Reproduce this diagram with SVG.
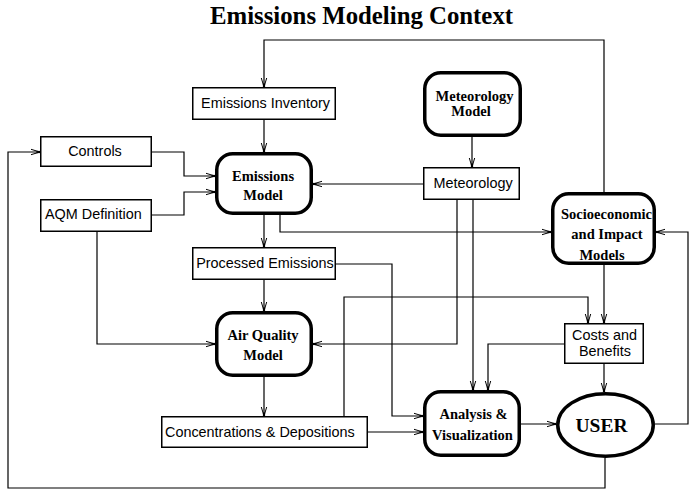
<svg xmlns="http://www.w3.org/2000/svg" width="697" height="497" viewBox="0 0 697 497">
<style>
.bg{fill:#fff}
.box{fill:#fff;stroke:#000;stroke-width:1.5}
.model{fill:#fff;stroke:#000;stroke-width:3.5}
.lbl{font-family:"Liberation Sans",Arial,sans-serif;font-size:14.4px;fill:#000}
.mlbl{font-family:"Liberation Serif","Times New Roman",serif;font-size:14.5px;font-weight:bold;fill:#000;text-anchor:middle}
.c{fill:none;stroke:#000;stroke-width:1.2;marker-end:url(#arr)}
.title{font-family:"Liberation Serif","Times New Roman",serif;font-size:24.8px;font-weight:bold;text-anchor:middle}
</style>
<defs>
<marker id="arr" markerUnits="userSpaceOnUse" markerWidth="12" markerHeight="10" viewBox="-10 -5 12 10" refX="0" refY="0" orient="auto">
<path d="M-9,-2.7 L0,0 L-9,2.7" fill="none" stroke="#000" stroke-width="1"/>
<rect x="-3.5" y="-1.1" width="3.5" height="2.2" fill="#000"/>
</marker>
</defs>
<rect class="bg" x="0" y="0" width="697" height="497"/>
<text class="title" x="361.5" y="24">Emissions Modeling Context</text>

<g id="connectors">
<path class="c" d="M604,192 V40 H264 V87"/>
<path class="c" d="M264,120 V152"/>
<path class="c" d="M152,152 H184 V176 H215"/>
<path class="c" d="M152,215 H184 V192 H215"/>
<path class="c" d="M423,184 H313"/>
<path class="c" d="M472,137 V167"/>
<path class="c" d="M264,215 V247"/>
<path class="c" d="M280,215 V232 H551"/>
<path class="c" d="M264,280 V311"/>
<path class="c" d="M97,232 V344 H215"/>
<path class="c" d="M457,200 V344 H313"/>
<path class="c" d="M473,200 V390"/>
<path class="c" d="M336,264 H392 V416 H423"/>
<path class="c" d="M264,377 V416"/>
<path class="c" d="M368,432 H423"/>
<path class="c" d="M344,416 V297 H588 V323"/>
<path class="c" d="M604,265 V323"/>
<path class="c" d="M564,344 H488 V390"/>
<path class="c" d="M604,364 V392"/>
<path class="c" d="M521,424 H556"/>
<path class="c" d="M655,424 H688 V232 H656"/>
<path class="c" d="M605,458 V488 H8 V152 H40"/>
</g>

<g id="emissions-inventory">
<rect class="box" x="192.75" y="87.75" width="142.5" height="31.5"/>
<text class="lbl" x="265.5" y="108" text-anchor="middle">Emissions Inventory</text>
</g>
<g id="controls">
<rect class="box" x="40.75" y="136.75" width="110.5" height="29.5"/>
<text class="lbl" x="95" y="156" text-anchor="middle">Controls</text>
</g>
<g id="aqm-definition">
<rect class="box" x="40.75" y="199.75" width="110.5" height="31.5"/>
<text class="lbl" x="45" y="219">AQM Definition</text>
</g>
<g id="meteorology">
<rect class="box" x="423.75" y="167.75" width="95.5" height="31.5"/>
<text class="lbl" x="473" y="188" text-anchor="middle">Meteorology</text>
</g>
<g id="processed-emissions">
<rect class="box" x="192.75" y="247.75" width="142.5" height="31.5"/>
<text class="lbl" x="265" y="268" text-anchor="middle">Processed Emissions</text>
</g>
<g id="concentrations-depositions">
<rect class="box" x="161.75" y="416.75" width="205.5" height="30.5"/>
<text class="lbl" x="165" y="437">Concentrations &amp; Depositions</text>
</g>
<g id="costs-benefits">
<rect class="box" x="564.75" y="323.75" width="78.5" height="39.5"/>
<text class="lbl" x="604.5" y="340" text-anchor="middle">Costs and</text>
<text class="lbl" x="605" y="356" text-anchor="middle">Benefits</text>
</g>

<g id="emissions-model">
<rect class="model" x="216.75" y="153.75" width="94.5" height="59.5" rx="16" ry="16"/>
<text class="mlbl" x="263" y="181">Emissions</text>
<text class="mlbl" x="263" y="200">Model</text>
</g>
<g id="meteorology-model">
<rect class="model" x="424.75" y="72.75" width="95.5" height="62.5" rx="16" ry="16"/>
<text class="mlbl" x="474.5" y="101">Meteorology</text>
<text class="mlbl" x="471" y="116">Model</text>
</g>
<g id="socioeconomic-model">
<rect class="model" x="552.75" y="193.75" width="101.5" height="69.5" rx="16" ry="16"/>
<text class="mlbl" x="606.5" y="219">Socioeconomic</text>
<text class="mlbl" x="607" y="239">and Impact</text>
<text class="mlbl" x="602" y="260">Models</text>
</g>
<g id="air-quality-model">
<rect class="model" x="216.75" y="312.75" width="94.5" height="62.5" rx="16" ry="16"/>
<text class="mlbl" x="263" y="340">Air Quality</text>
<text class="mlbl" x="263" y="360">Model</text>
</g>
<g id="analysis-visualization">
<rect class="model" x="424.75" y="391.75" width="94.5" height="63.5" rx="16" ry="16"/>
<text class="mlbl" x="473.5" y="419">Analysis &amp;</text>
<text class="mlbl" x="472.5" y="440">Visualization</text>
</g>
<g id="user">
<ellipse class="model" cx="605.5" cy="425" rx="47.75" ry="31.25"/>
<text class="mlbl" x="601.5" y="432" style="font-size:19.5px">USER</text>
</g>
</svg>
